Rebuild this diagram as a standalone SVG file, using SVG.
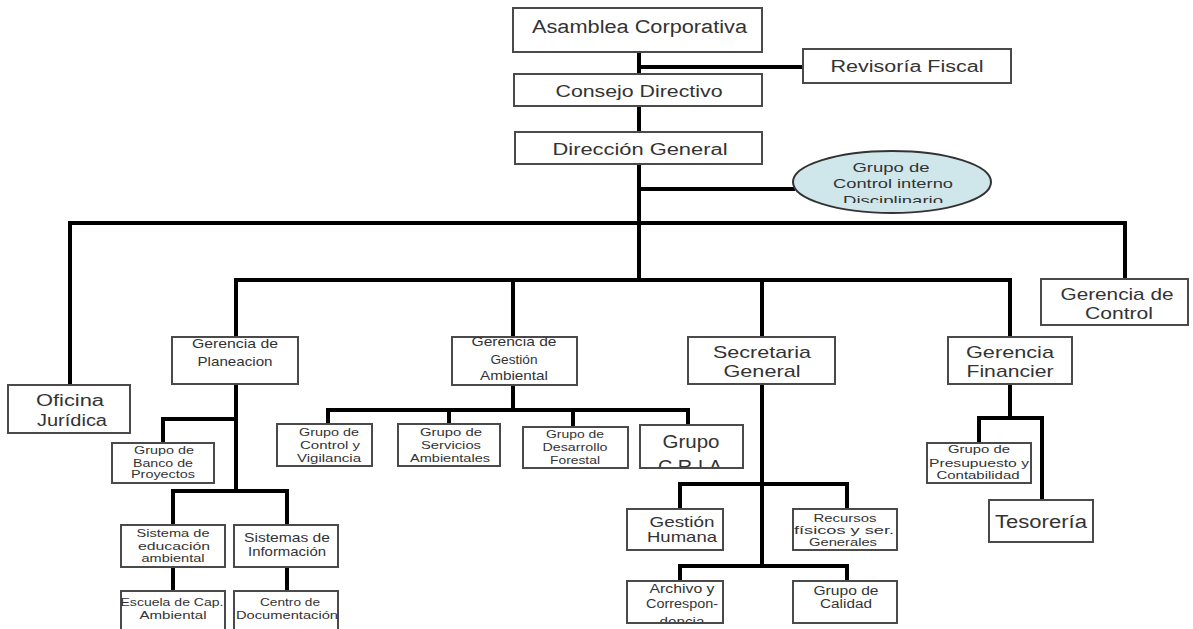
<svg xmlns="http://www.w3.org/2000/svg" width="1193" height="629" viewBox="0 0 1193 629">
<style>
.bx{fill:#fff;stroke:#4a4a4a;stroke-width:2}
.cn{fill:none;stroke:#000;stroke-width:4;stroke-linejoin:miter}
text{font-family:"Liberation Sans",Arial,sans-serif;fill:#333;text-anchor:middle}
.t18{font-size:18px}.t17{font-size:17px}.t16{font-size:16px}.t15{font-size:15px}.t13{font-size:13px}.t12{font-size:12px}.t11{font-size:11px}.t10{font-size:10.5px}
</style>
<defs>
<clipPath id="cEll"><rect x="780" y="145" width="220" height="58"/></clipPath>
<clipPath id="cCria"><rect x="640" y="425" width="103" height="42"/></clipPath>
<clipPath id="cArch"><rect x="627" y="581" width="96" height="41"/></clipPath>
</defs>
<rect width="1193" height="629" fill="#fff"/>
<g id="connectors">
<path class="cn" d="M639,52V74M639,67H803M639,106V132M639,164V280M639,189H795"/>
<path class="cn" d="M70,385V223H1125V279"/>
<path class="cn" d="M236,337V280H1010V337"/>
<path class="cn" d="M513,280V337M513,385V410M328,424V410H688V425M449,410V424M573,410V427"/>
<path class="cn" d="M762,280V337M762,384V566M680,509V484H847V509M680,581V566H847V581"/>
<path class="cn" d="M1010,384V418M979,443V418H1042V500"/>
<path class="cn" d="M236,384V491M163,443V419H236M173,525V491H287V525M173,567V591M287,567V591"/>
</g>
<g id="asamblea"><rect class="bx" x="513" y="8" width="249" height="44"/><text class="t18" x="639.5" y="33" textLength="215" lengthAdjust="spacingAndGlyphs">Asamblea Corporativa</text></g>
<g id="revisoria"><rect class="bx" x="803" y="49" width="208" height="34"/><text class="t16" x="907" y="72" textLength="153" lengthAdjust="spacingAndGlyphs">Revisoría Fiscal</text></g>
<g id="consejo"><rect class="bx" x="514" y="74" width="248" height="32"/><text class="t16" x="639" y="97" textLength="167" lengthAdjust="spacingAndGlyphs">Consejo Directivo</text></g>
<g id="direccion"><rect class="bx" x="515" y="132" width="247" height="32"/><text class="t16" x="640" y="155" textLength="175" lengthAdjust="spacingAndGlyphs">Dirección General</text></g>
<g id="control-interno"><ellipse cx="892" cy="182" rx="99" ry="31" fill="#cfe6ea" stroke="#333" stroke-width="2"/>
<g clip-path="url(#cEll)"><text class="t13" x="891" y="172" textLength="77" lengthAdjust="spacingAndGlyphs">Grupo de</text><text class="t13" x="893" y="188" textLength="120" lengthAdjust="spacingAndGlyphs">Control interno</text><text class="t13" x="893" y="205" textLength="100" lengthAdjust="spacingAndGlyphs">Disciplinario</text></g></g>
<g id="oficina"><rect class="bx" x="8" y="385" width="122" height="48"/><text class="t16" x="70" y="406" textLength="68" lengthAdjust="spacingAndGlyphs">Oficina</text><text class="t16" x="72" y="426" textLength="70" lengthAdjust="spacingAndGlyphs">Jurídica</text></g>
<g id="gerencia-control"><rect class="bx" x="1041" y="279" width="147" height="46"/><text class="t17" x="1117" y="300" textLength="113" lengthAdjust="spacingAndGlyphs">Gerencia de</text><text class="t17" x="1119" y="319" textLength="68" lengthAdjust="spacingAndGlyphs">Control</text></g>
<g id="planeacion"><rect class="bx" x="172" y="337" width="126" height="47"/><text class="t13" x="235" y="348" textLength="86" lengthAdjust="spacingAndGlyphs">Gerencia de</text><text class="t13" x="235" y="366" textLength="75" lengthAdjust="spacingAndGlyphs">Planeacion</text></g>
<g id="gestion-ambiental"><rect class="bx" x="452" y="337" width="125" height="48"/><text class="t13" x="514" y="346" textLength="85" lengthAdjust="spacingAndGlyphs">Gerencia de</text><text class="t13" x="514" y="364" textLength="47" lengthAdjust="spacingAndGlyphs">Gestión</text><text class="t13" x="514" y="380" textLength="68" lengthAdjust="spacingAndGlyphs">Ambiental</text></g>
<g id="secretaria"><rect class="bx" x="688" y="337" width="147" height="47"/><text class="t17" x="762" y="358" textLength="98" lengthAdjust="spacingAndGlyphs">Secretaria</text><text class="t17" x="762" y="377" textLength="77" lengthAdjust="spacingAndGlyphs">General</text></g>
<g id="financiera"><rect class="bx" x="948" y="337" width="124" height="47"/><text class="t17" x="1010" y="358" textLength="88" lengthAdjust="spacingAndGlyphs">Gerencia</text><text class="t17" x="1010" y="377" textLength="87" lengthAdjust="spacingAndGlyphs">Financier</text></g>
<g id="banco"><rect class="bx" x="112" y="443" width="102" height="40"/><text class="t11" x="164" y="454" textLength="60" lengthAdjust="spacingAndGlyphs">Grupo de</text><text class="t11" x="163" y="467" textLength="60" lengthAdjust="spacingAndGlyphs">Banco de</text><text class="t11" x="163" y="478" textLength="64" lengthAdjust="spacingAndGlyphs">Proyectos</text></g>
<g id="control-vigilancia"><rect class="bx" x="277" y="424" width="95" height="42"/><text class="t11" x="329" y="436" textLength="60" lengthAdjust="spacingAndGlyphs">Grupo de</text><text class="t11" x="330" y="449" textLength="60" lengthAdjust="spacingAndGlyphs">Control y</text><text class="t11" x="329" y="462" textLength="64" lengthAdjust="spacingAndGlyphs">Vigilancia</text></g>
<g id="servicios"><rect class="bx" x="398" y="424" width="102" height="42"/><text class="t11" x="451" y="436" textLength="62" lengthAdjust="spacingAndGlyphs">Grupo de</text><text class="t11" x="451" y="449" textLength="60" lengthAdjust="spacingAndGlyphs">Servicios</text><text class="t11" x="450" y="462" textLength="80" lengthAdjust="spacingAndGlyphs">Ambientales</text></g>
<g id="desarrollo"><rect class="bx" x="523" y="427" width="105" height="41"/><text class="t11" x="575" y="438" textLength="58" lengthAdjust="spacingAndGlyphs">Grupo de</text><text class="t11" x="575" y="451" textLength="65" lengthAdjust="spacingAndGlyphs">Desarrollo</text><text class="t11" x="575" y="464" textLength="50" lengthAdjust="spacingAndGlyphs">Forestal</text></g>
<g id="cria"><rect class="bx" x="640" y="425" width="103" height="43"/><g clip-path="url(#cCria)"><text class="t18" x="691" y="448" textLength="57" lengthAdjust="spacingAndGlyphs">Grupo</text><text class="t18" x="690" y="473" textLength="64" lengthAdjust="spacingAndGlyphs">C.R.I.A</text></g></g>
<g id="sist-educacion"><rect class="bx" x="121" y="525" width="104" height="42"/><text class="t11" x="173" y="537" textLength="73" lengthAdjust="spacingAndGlyphs">Sistema de</text><text class="t11" x="174" y="550" textLength="72" lengthAdjust="spacingAndGlyphs">educación</text><text class="t11" x="173" y="562" textLength="63" lengthAdjust="spacingAndGlyphs">ambiental</text></g>
<g id="sist-informacion"><rect class="bx" x="234" y="525" width="104" height="42"/><text class="t13" x="287" y="542" textLength="86" lengthAdjust="spacingAndGlyphs">Sistemas  de</text><text class="t13" x="287" y="556" textLength="78" lengthAdjust="spacingAndGlyphs">Información</text></g>
<g id="escuela"><rect class="bx" x="121" y="591" width="104" height="50"/><text class="t10" x="172" y="606" textLength="103" lengthAdjust="spacingAndGlyphs">Escuela de Cap.</text><text class="t10" x="173" y="619" textLength="67" lengthAdjust="spacingAndGlyphs">Ambiental</text></g>
<g id="centro"><rect class="bx" x="234" y="591" width="104" height="50"/><text class="t10" x="290" y="606" textLength="60" lengthAdjust="spacingAndGlyphs">Centro de</text><text class="t10" x="287" y="619" textLength="102" lengthAdjust="spacingAndGlyphs">Documentación</text></g>
<g id="presupuesto"><rect class="bx" x="927" y="443" width="104" height="40"/><text class="t11" x="979" y="453" textLength="62" lengthAdjust="spacingAndGlyphs">Grupo de</text><text class="t11" x="979" y="467" textLength="100" lengthAdjust="spacingAndGlyphs">Presupuesto y</text><text class="t11" x="978" y="479" textLength="83" lengthAdjust="spacingAndGlyphs">Contabilidad</text></g>
<g id="tesoreria"><rect class="bx" x="989" y="500" width="104" height="42"/><text class="t18" x="1041" y="528" textLength="92" lengthAdjust="spacingAndGlyphs">Tesorería</text></g>
<g id="gestion-humana"><rect class="bx" x="627" y="509" width="96" height="41"/><text class="t15" x="682" y="527" textLength="65" lengthAdjust="spacingAndGlyphs">Gestión</text><text class="t15" x="682" y="542" textLength="70" lengthAdjust="spacingAndGlyphs">Humana</text></g>
<g id="recursos"><rect class="bx" x="793" y="509" width="104" height="41"/><text class="t11" x="845" y="522" textLength="63" lengthAdjust="spacingAndGlyphs">Recursos</text><text class="t11" x="844" y="534" textLength="100" lengthAdjust="spacingAndGlyphs">físicos y ser.</text><text class="t11" x="843" y="546" textLength="68" lengthAdjust="spacingAndGlyphs">Generales</text></g>
<g id="archivo"><rect class="bx" x="627" y="581" width="96" height="42"/><g clip-path="url(#cArch)"><text class="t12" x="682" y="593" textLength="65" lengthAdjust="spacingAndGlyphs">Archivo  y</text><text class="t12" x="682" y="608" textLength="72" lengthAdjust="spacingAndGlyphs">Correspon-</text><text class="t12" x="682" y="626" textLength="45" lengthAdjust="spacingAndGlyphs">dencia</text></g></g>
<g id="calidad"><rect class="bx" x="793" y="581" width="104" height="42"/><text class="t12" x="846" y="595" textLength="65" lengthAdjust="spacingAndGlyphs">Grupo de</text><text class="t12" x="846" y="608" textLength="52" lengthAdjust="spacingAndGlyphs">Calidad</text></g>
</svg>
